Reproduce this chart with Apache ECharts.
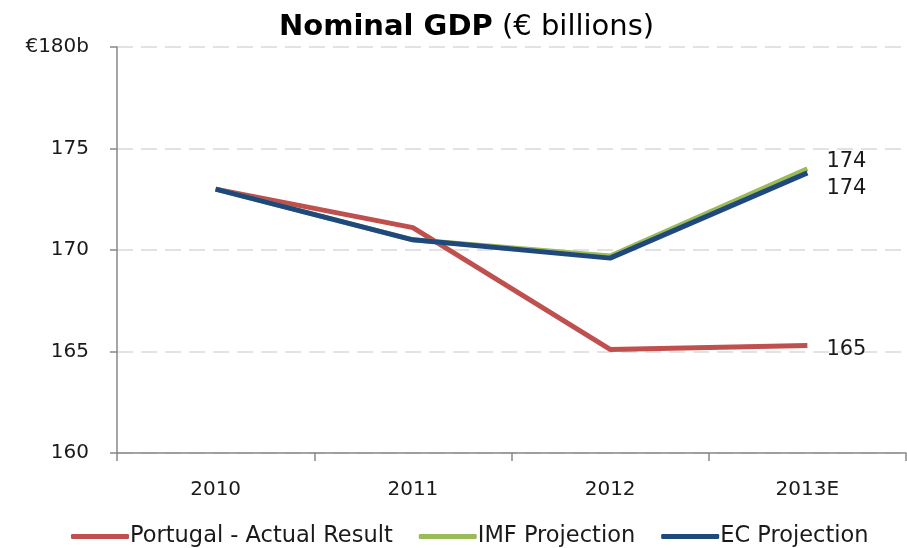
<!DOCTYPE html>
<html>
<head>
<meta charset="utf-8">
<script src="https://cdn.jsdelivr.net/npm/echarts@6/dist/echarts.min.js"></script>
<style>
    html, body { margin: 0; padding: 0; background: #fff; }
    #main { width: 907px; height: 548px; }
</style>
</head>
<body>
<div id="main"></div>
<script>
// 数据
var years = ['2010', '2011', '2012', '2013E'];
var portugal = [173.0, 171.1, 165.1, 165.3];
var imf = [173.0, 170.5, 169.7, 174.0];
var ec = [173.0, 170.5, 169.6, 173.8];
var names = ['Portugal - Actual Result', 'IMF Projection', 'EC Projection'];
var colors = ['#C0504D', '#9BBB59', '#1F497D'];

var font = 'DejaVu Sans';

function lineSeries(idx, data, offsetY) {
    return {
        name: names[idx],
        type: 'line',
        data: data,
        symbol: 'none',
        lineStyle: { color: colors[idx], width: 5 },
        itemStyle: { color: colors[idx] },
        // 末端数值
        endLabel: {
            show: true,
            distance: 19,
            offset: [0, offsetY],
            formatter: function (p) { return Math.round(p.value); },
            color: '#1a1a1a',
            fontFamily: font,
            fontSize: 21
        }
    };
}

var option = {
    animation: false,
    title: {
        text: '{b|Nominal GDP}{n| (€ billions)}',
        left: 274,
        top: 8,
        textStyle: {
            rich: {
                b: { fontFamily: font, fontSize: 29, fontWeight: 'bold', color: '#000' },
                n: { fontFamily: font, fontSize: 29, fontWeight: 'normal', color: '#000' }
            }
        }
    },
    grid: {
        left: 117,
        right: 1,
        top: 47,
        bottom: 95
    },
    legend: {
        data: names,
        bottom: -5,
        left: 66,
        icon: 'roundRect',
        itemWidth: 58,
        itemHeight: 5,
        itemGap: 26,
        textStyle: { fontFamily: font, fontSize: 22.5, color: '#1a1a1a', padding: [0, 0, 0, -4] }
    },
    xAxis: {
        type: 'category',
        data: years,
        boundaryGap: true,
        axisLine: { lineStyle: { color: '#888', width: 1.5 } },
        axisTick: { show: true, length: 8, lineStyle: { color: '#888', width: 1.5 } },
        axisLabel: { margin: 27, fontFamily: font, fontSize: 20, color: '#1a1a1a' }
    },
    yAxis: {
        type: 'value',
        min: 160,
        max: 180,
        interval: 5,
        axisLine: { show: true, lineStyle: { color: '#888', width: 1.5 } },
        axisTick: { show: true, length: 7, lineStyle: { color: '#888', width: 1.5 } },
        axisLabel: {
            margin: 28,
            fontFamily: font,
            fontSize: 20,
            color: '#1a1a1a',
            formatter: function (v) { return v == 180 ? '€180b' : v; }
        },
        splitLine: { lineStyle: { color: '#d9d9d9', width: 1.5, type: [16, 8] } }
    },
    series: [
        lineSeries(0, portugal, 4),
        lineSeries(1, imf, -7),
        lineSeries(2, ec, 16)
    ]
};

var chart = echarts.init(document.getElementById('main'));
chart.setOption(option);
</script>
</body>
</html>
